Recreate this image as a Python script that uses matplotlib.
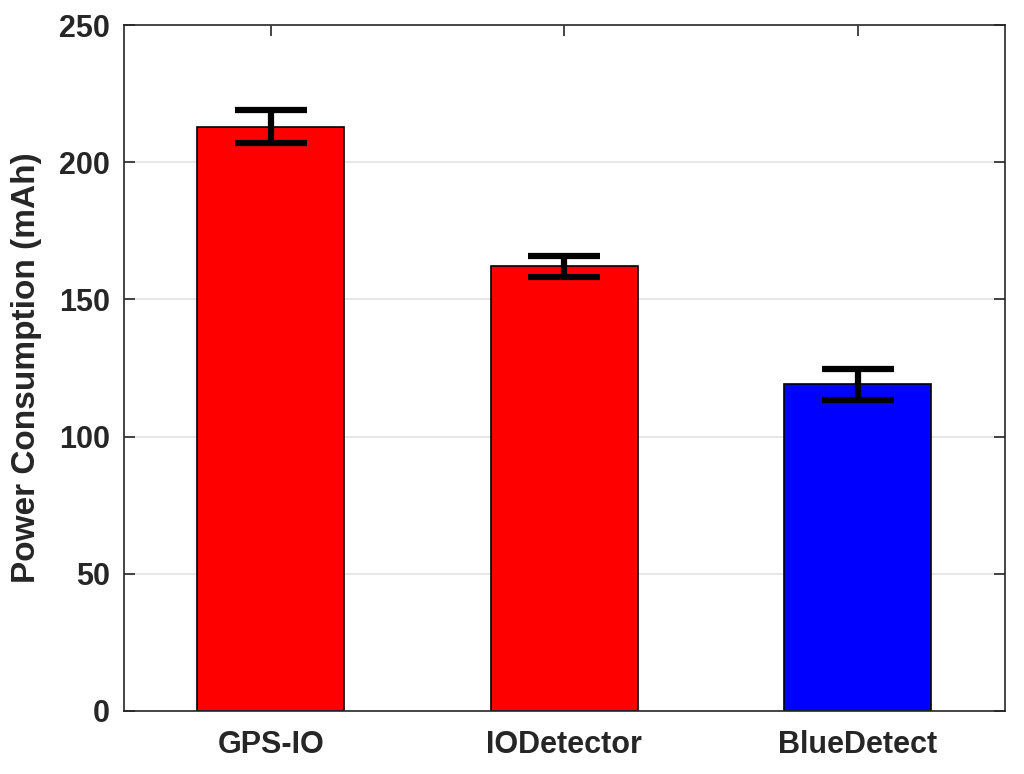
import numpy as np
import matplotlib.pyplot as plt

plt.rcParams['font.family'] = ['Liberation Sans', 'DejaVu Sans']
plt.rcParams['font.weight'] = 'bold'

methods = ['GPS-IO', 'IODetector', 'BlueDetect']
power = [213, 162, 119]
err = [6, 3.8, 5.6]
colors = ['#ff0000', '#ff0000', '#0000ff']

fig = plt.figure(figsize=(10.24, 7.74), dpi=100)
ax = fig.add_axes([0.121, 0.0814, 0.860, 0.8863])

x = np.arange(1, len(methods) + 1)
ax.bar(x, power, width=0.5, color=colors, edgecolor='black', linewidth=1.2, zorder=2)
ax.errorbar(x, power, yerr=err, fmt='none', ecolor='black', elinewidth=4.5,
            capsize=26, capthick=4.5, zorder=3)

ax.set_xlim(0.5, 3.5)
ax.set_ylim(0, 250)
ax.set_xticks(x)
ax.set_xticklabels(methods)
ax.set_yticks([0, 50, 100, 150, 200, 250])
ax.yaxis.grid(True, color='#e3e3e3', linewidth=1.2, zorder=0)
ax.set_axisbelow(True)
ax.tick_params(direction='in', top=True, right=True, length=8, width=1.2,
               colors='#262626', labelsize=22)
ax.tick_params(axis='x', pad=14)
ax.tick_params(axis='y', pad=10)
for lab in ax.get_xticklabels() + ax.get_yticklabels():
    lab.set_fontweight('bold')
for s in ax.spines.values():
    s.set_color('#262626')
    s.set_linewidth(1.2)
ax.set_ylabel('Power Consumption (mAh)', fontsize=24, fontweight='bold',
              color='#262626', labelpad=12)

fig.savefig('out.png', dpi=100)
